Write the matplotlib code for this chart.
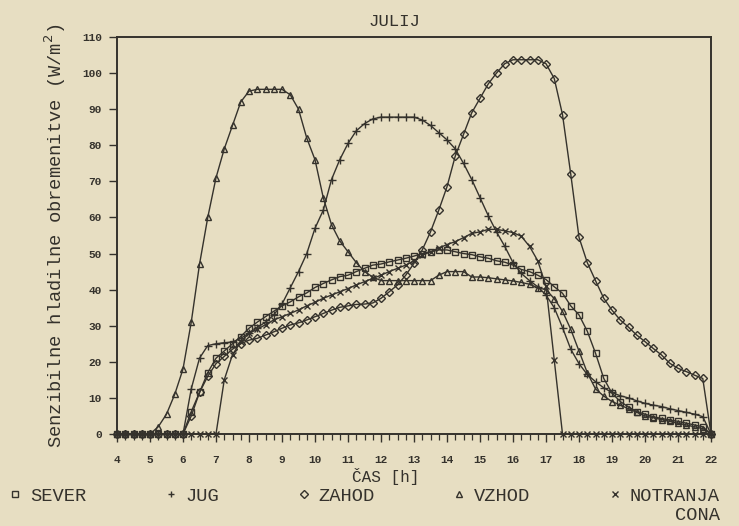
import numpy as np
import matplotlib
matplotlib.use("Agg")
import matplotlib.pyplot as plt
from matplotlib.lines import Line2D

# ura (vsakih 15 minut)
hours = np.arange(4, 22.01, 0.25)

sever = [0, 0, 0, 0,
         0, 0, 0, 0,
         0, 6.2, 11.5, 17,
         21, 23, 25, 27,
         29.3, 31, 32.5, 34,
         35.5, 36.6, 38, 39.1,
         40.6, 41.7, 42.7, 43.6,
         44, 45, 45.9, 46.8,
         47.1, 47.7, 48.2, 48.7,
         49.3, 50, 50.5, 51,
         51, 50.5, 50, 49.7,
         49.1, 48.7, 48, 47.6,
         46.8, 45.6, 45, 44,
         42.8, 40.8, 39, 35.5,
         33, 28.5, 22.4, 15.4,
         11.3, 9, 7.5, 6.2,
         5.5, 4.8, 4.3, 3.9,
         3.5, 3, 2.5, 2,
         0]

jug = [0, 0, 0, 0,
       0, 0, 0, 0,
       0, 12.5, 21, 24.5,
       25, 25.3, 25.5, 26.5,
       28, 29.5, 31, 33,
       36, 40.5, 45, 50,
       57, 62, 70.5, 76,
       80.5, 84, 86, 87.3,
       87.8, 87.8, 87.8, 87.8,
       87.8, 87, 85.5, 83.5,
       81.5, 79, 75, 70.5,
       65.5, 60.5, 56, 52,
       47.5, 44.5, 42.5, 40.8,
       38.5, 35, 29.5, 23.5,
       19.5, 16.5, 14.5, 12.8,
       11.5, 10.6, 10, 9.2,
       8.5, 8, 7.6, 7,
       6.5, 6, 5.5, 4.8,
       0]

zahod = [0, 0, 0, 0,
         0, 0, 0, 0,
         0, 5, 11.5, 16,
         19.5, 21.5, 23.5, 25,
         26, 26.5, 27.4, 28.3,
         29.3, 30.2, 30.8, 31.6,
         32.5, 33.4, 34.3, 35.1,
         35.5, 35.9, 36, 36.3,
         37.6, 39.4, 41.3, 44,
         47.3, 51, 56, 62,
         68.5, 77, 83, 89,
         93, 97, 100, 102.6,
         103.7, 103.7, 103.7, 103.7,
         102.6, 98.5, 88.5, 72,
         54.5, 47.5, 42.5, 37.6,
         34.3, 31.6, 29.6, 27.4,
         25.6, 23.7, 21.9, 19.6,
         18.2, 17.3, 16.3, 15.4,
         0]

vzhod = [0, 0, 0, 0,
         0, 2, 5.5, 11,
         18, 31, 47, 60,
         71, 79, 85.5, 92,
         95, 95.5, 95.5, 95.5,
         95.5, 94, 90, 82,
         76, 65.5, 58, 53.5,
         50.5, 47.5, 45, 43.5,
         42.5, 42.5, 42.5, 42.5,
         42.5, 42.5, 42.5, 44,
         45, 45, 45, 43.5,
         43.5, 43.3, 43, 42.7,
         42.4, 42, 41.5, 40.5,
         40, 37.5, 34, 29,
         23, 17, 12.5, 10.5,
         9, 8, 7, 6,
         5, 4.5, 4, 3.5,
         3, 2.5, 2, 1.5,
         0]

notranja = [0, 0, 0, 0,
            0, 0, 0, 0,
            0, 0, 0, 0,
            0, 15, 22, 25.5,
            27.9, 29, 30.3, 31.6,
            32.5, 33.4, 34.4, 35.5,
            36.5, 37.6, 38.5, 39.4,
            40.3, 41.3, 42.2, 43.1,
            44, 45, 45.9, 46.8,
            48, 49.5, 50.5, 51.5,
            52.5, 53.3, 54.4, 55.6,
            56, 56.7, 56.7, 56.3,
            55.8, 54.8, 52, 48,
            41, 20.5, 0, 0,
            0, 0, 0, 0,
            0, 0, 0, 0,
            0, 0, 0, 0,
            0, 0, 0, 0,
            0]

names = ["SEVER", "JUG", "ZAHOD", "VZHOD", "NOTRANJA"]
series = [sever, jug, zahod, vzhod, notranja]
markers = ["s", "+", "D", "^", "x"]
msizes = [5, 6, 3.8, 5, 5]

paper = "#e7dec2"
ink = "#35322c"
mono = ["Liberation Mono", "DejaVu Sans Mono"]

fig = plt.figure(figsize=(7.39, 5.26), dpi=100, facecolor=paper)
ax = fig.add_axes([117 / 739, 1 - 434 / 526, 594 / 739, 397 / 526])
ax.set_facecolor(paper)

for vals, m, ms in zip(series, markers, msizes):
    ax.plot(hours, vals, color=ink, lw=1.0, marker=m, ms=ms,
            mfc="none", mec=ink, mew=1.0, clip_on=False, zorder=3)

ax.set_xlim(4, 22)
ax.set_ylim(0, 110)
ax.set_xticks(range(4, 23))
ax.set_xticks(np.arange(4, 22.01, 0.25), minor=True)
ax.set_yticks(range(0, 111, 10))
ax.tick_params(axis="both", which="major", direction="out", color=ink,
               width=1.0, labelsize=8, labelcolor=ink)
ax.tick_params(axis="x", which="major", length=6, pad=9)
ax.tick_params(axis="y", which="major", length=6, pad=5)
ax.tick_params(axis="x", which="minor", direction="out", length=4,
               width=0.9, color=ink)
for lab in ax.get_xticklabels() + ax.get_yticklabels():
    lab.set_family(mono)
    lab.set_fontweight("bold")
for sp in ax.spines.values():
    sp.set_color(ink)
    sp.set_linewidth(1.4)

ax.set_title("JULIJ", family=mono, fontsize=12.5, color=ink, pad=8,
             x=(394 - 117) / 594)
ax.set_ylabel("Senzibilne hladilne obremenitve (W/m$^2$)", family=mono,
              fontsize=13.5, color=ink, labelpad=10)
ax.set_xlabel("ČAS [h]", family=mono, fontsize=11.5, color=ink)
ax.xaxis.set_label_coords((386 - 117) / 594, -0.085)

handles = [Line2D([], [], ls="none", marker=m, ms=4, mfc="none", mec=ink,
                  mew=1.0) for m in markers]
leg = fig.legend(handles, names, ncol=5, loc="center left",
                 bbox_to_anchor=(0.0076, 1 - 496 / 526), frameon=False,
                 borderpad=0, borderaxespad=0,
                 handlelength=1.0, handletextpad=0.3, columnspacing=4.0,
                 prop={"family": mono, "size": 13.5})
for t in leg.get_texts():
    t.set_color(ink)

# druga vrstica oznake NOTRANJA CONA
fig.canvas.draw()
bb = leg.get_texts()[4].get_window_extent().transformed(fig.transFigure.inverted())
fig.text(bb.x1, bb.y0 - 0.004, "CONA", ha="right", va="top", family=mono,
         fontsize=13.5, color=ink)

fig.savefig("out.png", dpi=100, facecolor=paper)
